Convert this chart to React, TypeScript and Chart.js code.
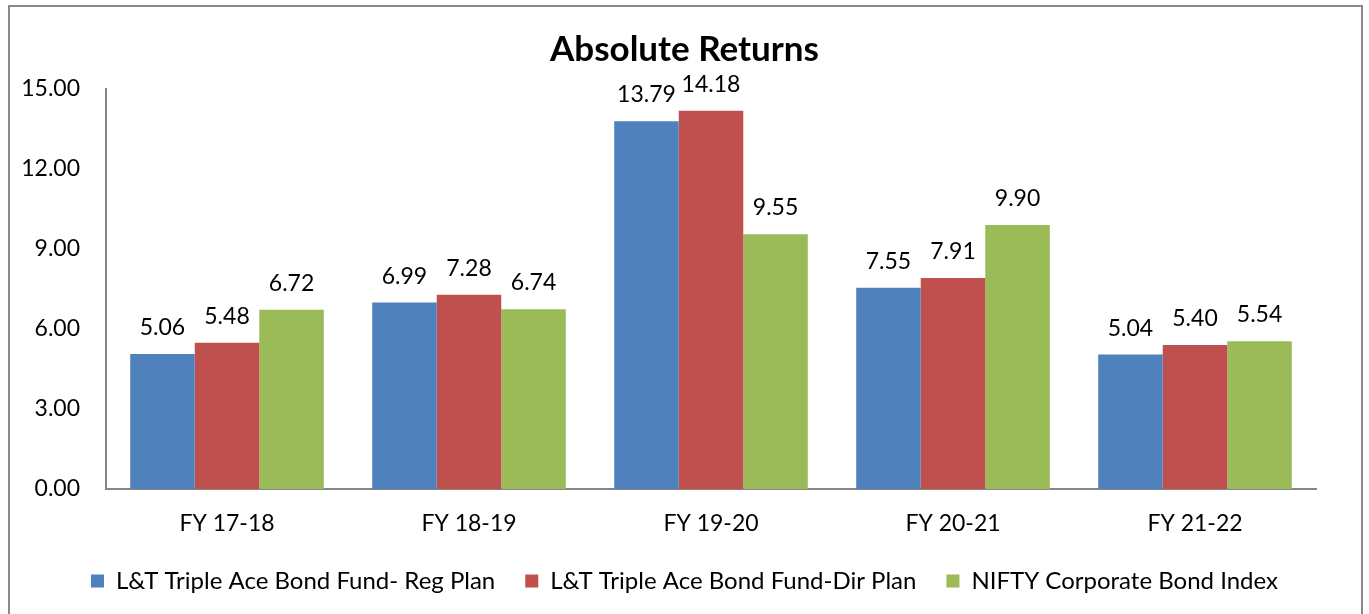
import React, { useEffect, useRef } from "react";
import { Chart, registerables } from "chart.js";
Chart.register(...registerables);

const categories = ["FY 17-18", "FY 18-19", "FY 19-20", "FY 20-21", "FY 21-22"];
const regPlan = [5.06, 6.99, 13.79, 7.55, 5.04];
const dirPlan = [5.48, 7.28, 14.18, 7.91, 5.4];
const niftyIndex = [6.72, 6.74, 9.55, 9.9, 5.54];
const seriesNames = [
  "L&T Triple Ace Bond Fund- Reg Plan",
  "L&T Triple Ace Bond Fund-Dir Plan",
  "NIFTY Corporate Bond Index",
];
const seriesColors = ["#4F81BD", "#C0504D", "#9BBB59"];
const yMin = 0;
const yMax = 15;
const yStep = 3;
const titleText = "Absolute Returns";

const FONT = "Lato";

const valueLabels = {
  id: "valueLabels",
  afterDatasetsDraw(chart: any) {
    const ctx = chart.ctx;
    ctx.save();
    ctx.font = `23px ${FONT}`;
    ctx.fillStyle = "#000";
    ctx.textAlign = "center";
    ctx.textBaseline = "alphabetic";
    chart.data.datasets.forEach((ds: any, i: number) => {
      const meta = chart.getDatasetMeta(i);
      meta.data.forEach((el: any, j: number) => {
        ctx.fillText(Number(ds.data[j]).toFixed(2), el.x, el.y - 19);
      });
    });
    ctx.restore();
  },
};

export default function App() {
  const ref = useRef<HTMLCanvasElement | null>(null);
  useEffect(() => {
    if (!ref.current) return;
    const seriesData = [regPlan, dirPlan, niftyIndex];
    const chart = new Chart(ref.current, {
      type: "bar",
      data: {
        labels: categories,
        datasets: seriesData.map((d, i) => ({
          label: seriesNames[i],
          data: d,
          backgroundColor: seriesColors[i],
          borderWidth: 0,
          categoryPercentage: 0.8,
          barPercentage: 1,
          yAxisID: "y",
        })),
      },
      options: {
        responsive: false,
        animation: false,
        layout: { padding: { left: 0, right: 0, top: 0, bottom: 11 } },
        plugins: {
          title: {
            display: true,
            text: titleText,
            color: "#000",
            font: { family: FONT, size: 35, weight: "bold" },
            padding: { top: 29, bottom: 18 },
          },
          legend: {
            display: true,
            position: "bottom",
            labels: {
              color: "#000",
              font: { family: FONT, size: 24 },
              boxWidth: 13,
              boxHeight: 13,
              padding: 30,
            },
          },
          tooltip: { enabled: false },
        },
        scales: {
          x: {
            grid: { display: false, drawTicks: false },
            border: { display: true, color: "#868686", width: 2 },
            ticks: { color: "#000", font: { family: FONT, size: 23 }, padding: 21 },
            afterFit(scale: any) {
              scale.height = 50;
            },
          },
          y: {
            min: yMin,
            max: yMax,
            grid: { display: false, drawTicks: false },
            border: { display: true, color: "#868686", width: 2 },
            ticks: {
              stepSize: yStep,
              color: "#000",
              font: { family: FONT, size: 23 },
              padding: 26,
              callback: (v: any) => Number(v).toFixed(2),
            },
            afterFit(scale: any) {
              scale.width = 106;
            },
          },
          yRight: {
            position: "right",
            display: true,
            grid: { display: false, drawTicks: false },
            border: { display: false },
            ticks: { display: false },
            afterFit(scale: any) {
              scale.width = 53;
            },
          },
        },
      },
      plugins: [valueLabels],
    });
    return () => chart.destroy();
  }, []);
  return (
    <div style={{ position: "fixed", left: 0, top: 0, width: 1369, height: 614, background: "#fff", overflow: "hidden" }}>
      <div
        style={{
          position: "absolute",
          left: 8,
          top: 5,
          width: 1355,
          height: 640,
          border: "2px solid #8a8a8a",
          boxSizing: "border-box",
        }}
      />
      <canvas ref={ref} width={1369} height={614} style={{ position: "absolute", left: 0, top: 0 }} />
    </div>
  );
}
